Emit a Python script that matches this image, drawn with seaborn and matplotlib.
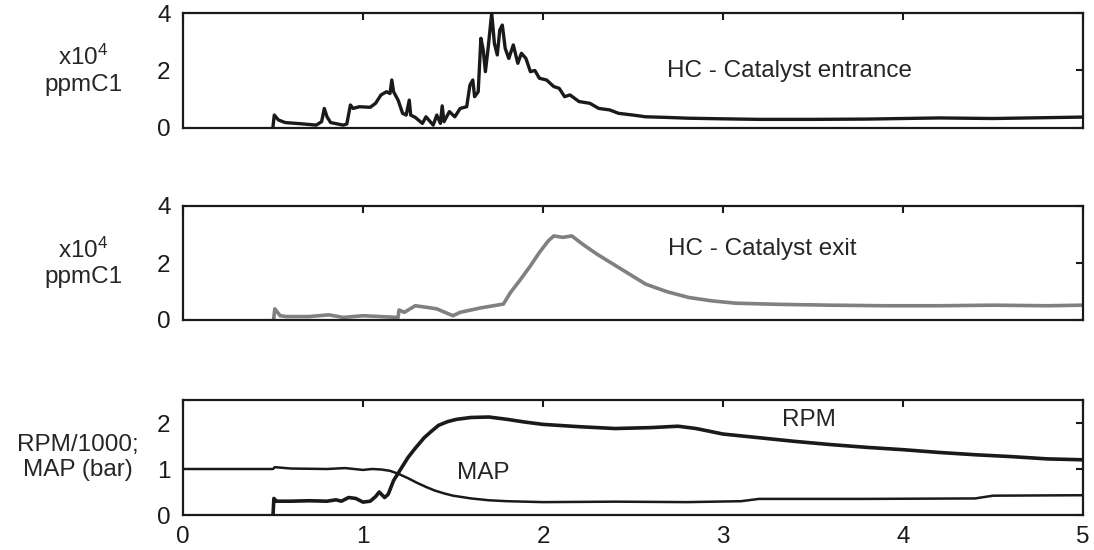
import matplotlib
matplotlib.use("Agg")
import matplotlib.pyplot as plt
import seaborn as sns
import pandas as pd

# ---------------- data ----------------
entr_t = [0.50, 0.507, 0.53, 0.567, 0.67, 0.74, 0.77, 0.785, 0.80, 0.82, 0.89, 0.91,
          0.93, 0.945, 0.98, 1.04, 1.07, 1.10, 1.13, 1.15, 1.16, 1.17, 1.195, 1.22,
          1.24, 1.257, 1.265, 1.29, 1.33, 1.35, 1.39, 1.41, 1.43, 1.44, 1.45, 1.48,
          1.51, 1.54, 1.576, 1.594, 1.61, 1.62, 1.64, 1.655, 1.668, 1.68, 1.696,
          1.715, 1.73, 1.746, 1.76, 1.774, 1.79, 1.81, 1.835, 1.86, 1.88, 1.905,
          1.93, 1.955, 1.98, 2.02, 2.06, 2.09, 2.12, 2.15, 2.20, 2.26, 2.31, 2.37,
          2.42, 2.50, 2.57, 2.68, 2.81, 2.99, 3.2, 3.5, 3.8, 4.0, 4.2, 4.5, 4.8, 5.0]
entr_v = [0.05, 0.45, 0.28, 0.19, 0.14, 0.10, 0.22, 0.68, 0.39, 0.19, 0.10, 0.14,
          0.80, 0.68, 0.74, 0.72, 0.86, 1.15, 1.26, 1.20, 1.67, 1.26, 0.97, 0.51,
          0.45, 0.97, 0.45, 0.37, 0.16, 0.39, 0.10, 0.45, 0.16, 0.77, 0.22, 0.57,
          0.39, 0.68, 0.74, 1.49, 1.67, 1.09, 1.26, 3.12, 2.71, 1.96, 2.83,
          4.00, 2.94, 2.54, 3.41, 3.58, 2.77, 2.42, 2.89, 2.25, 2.60, 2.42,
          1.96, 2.00, 1.73, 1.67, 1.44, 1.38, 1.09, 1.15, 0.92, 0.86, 0.68, 0.63,
          0.51, 0.45, 0.39, 0.37, 0.34, 0.32, 0.30, 0.30, 0.31, 0.33, 0.35, 0.33, 0.36, 0.38]

exit_t = [0.504, 0.51, 0.54, 0.575, 0.70, 0.81, 0.89, 1.00, 1.10, 1.195, 1.20, 1.23,
          1.29, 1.36, 1.41, 1.47, 1.50, 1.54, 1.65, 1.78, 1.82, 1.87, 1.93, 1.98,
          2.03, 2.06, 2.11, 2.16, 2.22, 2.30, 2.39, 2.48, 2.57, 2.69, 2.81, 2.94,
          3.07, 3.3, 3.6, 3.9, 4.2, 4.5, 4.8, 5.0]
exit_v = [0.05, 0.39, 0.15, 0.12, 0.12, 0.18, 0.09, 0.15, 0.12, 0.09, 0.35, 0.27,
          0.50, 0.44, 0.39, 0.23, 0.15, 0.27, 0.42, 0.56, 0.97, 1.38, 1.90, 2.37,
          2.78, 2.95, 2.90, 2.95, 2.66, 2.31, 1.96, 1.61, 1.26, 0.99, 0.79, 0.67,
          0.59, 0.55, 0.52, 0.50, 0.50, 0.52, 0.50, 0.52]

map_t = [0.0, 0.50, 0.51, 0.60, 0.80, 0.90, 1.00, 1.05, 1.10, 1.15, 1.20, 1.25,
         1.30, 1.35, 1.40, 1.45, 1.50, 1.60, 1.70, 1.80, 2.00, 2.40, 2.80, 3.10,
         3.20, 3.80, 4.40, 4.50, 5.00]
map_v = [1.00, 1.00, 1.04, 1.01, 1.00, 1.02, 0.98, 1.00, 0.99, 0.96, 0.89, 0.80,
         0.70, 0.61, 0.53, 0.47, 0.42, 0.36, 0.32, 0.30, 0.28, 0.29, 0.28, 0.30,
         0.35, 0.35, 0.36, 0.42, 0.43]

rpm_t = [0.50, 0.505, 0.52, 0.60, 0.70, 0.80, 0.85, 0.88, 0.92, 0.96, 1.00, 1.04,
         1.07, 1.09, 1.12, 1.14, 1.17, 1.21, 1.25, 1.29, 1.34, 1.38, 1.42, 1.47,
         1.52, 1.60, 1.70, 1.80, 1.90, 2.00, 2.20, 2.40, 2.60, 2.75, 2.85, 3.00,
         3.20, 3.40, 3.60, 3.80, 4.00, 4.20, 4.40, 4.60, 4.80, 5.00]
rpm_v = [0.00, 0.36, 0.30, 0.30, 0.31, 0.30, 0.33, 0.30, 0.38, 0.36, 0.28, 0.30,
         0.40, 0.50, 0.38, 0.45, 0.75, 1.00, 1.25, 1.45, 1.68, 1.82, 1.95, 2.03,
         2.08, 2.12, 2.13, 2.08, 2.02, 1.97, 1.92, 1.88, 1.90, 1.93, 1.88, 1.76,
         1.68, 1.60, 1.53, 1.47, 1.42, 1.36, 1.31, 1.27, 1.22, 1.20]

x_ticks = [0, 1, 2, 3, 4, 5]
hc_yticks = [0, 2, 4]
eng_yticks = [0, 1, 2]

# ---------------- style ----------------
sns.set_style("white")
plt.rcParams['font.family'] = ['Liberation Sans', 'DejaVu Sans']
plt.rcParams['mathtext.fontset'] = 'custom'
plt.rcParams['mathtext.rm'] = 'Liberation Sans'
plt.rcParams['mathtext.it'] = 'Liberation Sans:italic'

FS = 17.5
fig = plt.figure(figsize=(10.94, 5.5), dpi=100)
left, width = 183 / 1094, 900 / 1094
ax1 = fig.add_axes([left, 1 - 128 / 550, width, 115 / 550])
ax2 = fig.add_axes([left, 1 - 320 / 550, width, 114 / 550])
ax3 = fig.add_axes([left, 1 - 515 / 550, width, 115 / 550])

d1 = pd.DataFrame({'t': entr_t, 'v': entr_v})
d2 = pd.DataFrame({'t': exit_t, 'v': exit_v})
dm = pd.DataFrame({'t': map_t, 'v': map_v})
dr = pd.DataFrame({'t': rpm_t, 'v': rpm_v})

sns.lineplot(data=d1, x='t', y='v', ax=ax1, color='#1a1a1a', lw=2.4,
             sort=False, estimator=None)
sns.lineplot(data=d2, x='t', y='v', ax=ax2, color='#808080', lw=2.6,
             sort=False, estimator=None)
sns.lineplot(data=dm, x='t', y='v', ax=ax3, color='#1a1a1a', lw=1.8,
             sort=False, estimator=None)
sns.lineplot(data=dr, x='t', y='v', ax=ax3, color='#1a1a1a', lw=2.6,
             sort=False, estimator=None)

for ax in (ax1, ax2, ax3):
    ax.set_xlim(0, 5)
    ax.set_xticks(x_ticks)
    ax.tick_params(direction='in', top=True, right=True, length=5, width=1.5,
                   labelsize=FS, colors='#1a1a1a')
    ax.tick_params(axis='y', pad=9)
    ax.tick_params(axis='x', pad=8)
    for s in ax.spines.values():
        s.set_linewidth(1.6)
        s.set_color('#1a1a1a')
    ax.set_xlabel('')

for ax in (ax1, ax2):
    ax.set_ylim(0, 4)
    ax.set_yticks(hc_yticks)
    ax.set_xticklabels([])
    ax.set_ylabel('x10$^{4}$\nppmC1', rotation=0, fontsize=FS, ha='center',
                  va='center', linespacing=1.2)
    ax.yaxis.set_label_coords(-0.111, 0.5)

ax3.set_ylim(0, 2.5)
ax3.set_yticks(eng_yticks)
ax3.set_ylabel('RPM/1000;\nMAP (bar)', rotation=0, fontsize=FS, ha='center',
               va='center', linespacing=1.2)
ax3.yaxis.set_label_coords(-0.117, 0.5)

ax1.text(3.37, 2.0, 'HC - Catalyst entrance', fontsize=FS, ha='center', va='center')
ax2.text(3.22, 2.5, 'HC - Catalyst exit', fontsize=FS, ha='center', va='center')
ax3.text(3.48, 2.07, 'RPM', fontsize=FS, ha='center', va='center')
ax3.text(1.67, 0.91, 'MAP', fontsize=FS, ha='center', va='center')

fig.savefig('out.png', dpi=100)
